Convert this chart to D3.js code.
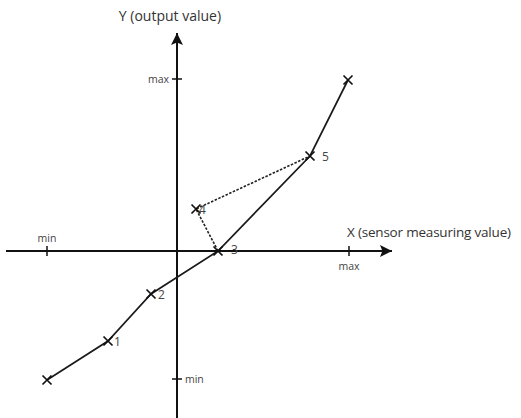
<!DOCTYPE html>
<html>
<head>
<meta charset="utf-8">
<script src="https://cdn.jsdelivr.net/npm/d3@7"></script>
<style>
  body { margin: 0; background: #fff; }
  text { font-family: "Open Sans", "Noto Sans", sans-serif; }
</style>
</head>
<body>
<div id="chart"></div>
<script>
// data (units: sensor value / output value)
const curveX = [-13, -6.9, -2.6, 4.1, 13.3, 17.1];
const curveY = [-12.9, -9.0, -4.3, 0, 9.5, 17.1];
const curveLabels = ["", "1", "2", "3", "5", ""];
const dashX = [4.1, 1.9, 13.3];
const dashY = [0, 4.2, 9.5];
const dashLabels = ["", "4", ""];
const xTicks = [-13, 17.2];
const xTickLabels = ["min", "max"];
const yTicks = [-12.8, 17.2];
const yTickLabels = ["min", "max"];

const width = 521;
const height = 418;

const x = d3.scaleLinear().domain([-13, 17.2]).range([47, 349]);
const y = d3.scaleLinear().domain([-12.8, 17.2]).range([379, 79]);

const svg = d3
  .select("#chart")
  .append("svg")
  .attr("width", width)
  .attr("height", height);

svg
  .append("defs")
  .append("marker")
  .attr("id", "arrow")
  .attr("viewBox", "0 0 10 10")
  .attr("refX", 10)
  .attr("refY", 5)
  .attr("markerWidth", 8)
  .attr("markerHeight", 6)
  .attr("markerUnits", "strokeWidth")
  .attr("orient", "auto")
  .append("path")
  .attr("d", "M0,0L10,5L0,10L2,5Z")
  .attr("fill", "#111");

// axes
svg
  .append("line")
  .attr("x1", 6)
  .attr("x2", 392)
  .attr("y1", y(0))
  .attr("y2", y(0))
  .attr("stroke", "#111")
  .attr("stroke-width", 2)
  .attr("marker-end", "url(#arrow)");

svg
  .append("line")
  .attr("x1", x(0))
  .attr("x2", x(0))
  .attr("y1", height)
  .attr("y2", 33)
  .attr("stroke", "#111")
  .attr("stroke-width", 2)
  .attr("marker-end", "url(#arrow)");

// ticks
svg
  .selectAll(".xtick")
  .data(xTicks)
  .join("line")
  .attr("x1", (d) => x(d))
  .attr("x2", (d) => x(d))
  .attr("y1", y(0) - 5)
  .attr("y2", y(0) + 5)
  .attr("stroke", "#111")
  .attr("stroke-width", 1.5);

svg
  .selectAll(".ytick")
  .data(yTicks)
  .join("line")
  .attr("x1", x(0) - 5)
  .attr("x2", x(0) + 5)
  .attr("y1", (d) => y(d))
  .attr("y2", (d) => y(d))
  .attr("stroke", "#111")
  .attr("stroke-width", 1.5);

svg
  .selectAll(".xticklabel")
  .data(xTicks)
  .join("text")
  .attr("x", (d) => x(d))
  .attr("y", (d, i) => (i === 0 ? y(0) - 9 : y(0) + 19))
  .attr("text-anchor", "middle")
  .attr("fill", "#444")
  .style("font-size", "10.5px")
  .text((d, i) => xTickLabels[i]);

svg
  .selectAll(".yticklabel")
  .data(yTicks)
  .join("text")
  .attr("x", (d, i) => (i === 0 ? x(0) + 8 : x(0) - 8))
  .attr("y", (d) => y(d) + 4)
  .attr("text-anchor", (d, i) => (i === 0 ? "start" : "end"))
  .attr("fill", "#444")
  .style("font-size", "10.5px")
  .text((d, i) => yTickLabels[i]);

// titles
svg
  .append("text")
  .attr("x", 170)
  .attr("y", 21)
  .attr("text-anchor", "middle")
  .attr("fill", "#333")
  .style("font-size", "14px")
  .text("Y (output value)");

svg
  .append("text")
  .attr("x", 347)
  .attr("y", 237)
  .attr("fill", "#333")
  .style("font-size", "13.5px")
  .style("letter-spacing", "-0.2px")
  .text("X (sensor measuring value)");

// curves
const curve = curveX.map((d, i) => [d, curveY[i], curveLabels[i]]);
const dashed = dashX.map((d, i) => [d, dashY[i], dashLabels[i]]);
const line = d3
  .line()
  .x((d) => x(d[0]))
  .y((d) => y(d[1]));

svg
  .append("path")
  .datum(dashed)
  .attr("d", line)
  .attr("fill", "none")
  .attr("stroke", "#222")
  .attr("stroke-width", 1.6)
  .attr("stroke-dasharray", "2.5,1.5");

svg
  .append("path")
  .datum(curve)
  .attr("d", line)
  .attr("fill", "none")
  .attr("stroke", "#1a1a1a")
  .attr("stroke-width", 1.7);

const pts = curve.concat([dashed[1]]);
const s = 4.5;
svg
  .selectAll(".mark")
  .data(pts)
  .join("path")
  .attr(
    "d",
    (d) =>
      `M${x(d[0]) - s},${y(d[1]) - s}L${x(d[0]) + s},${y(d[1]) + s}` +
      `M${x(d[0]) - s},${y(d[1]) + s}L${x(d[0]) + s},${y(d[1]) - s}`
  )
  .attr("stroke", "#111")
  .attr("stroke-width", 1.7);

const labelDx = { 1: 6, 2: 7, 3: 13, 4: 3, 5: 12 };
svg
  .selectAll(".plabel")
  .data(pts.filter((d) => d[2]))
  .join("text")
  .attr("x", (d) => x(d[0]) + labelDx[d[2]])
  .attr("y", (d) => y(d[1]) + (d[2] === "3" ? 3 : 5))
  .attr("fill", "#444")
  .style("font-size", "12px")
  .text((d) => d[2]);
</script>
</body>
</html>
